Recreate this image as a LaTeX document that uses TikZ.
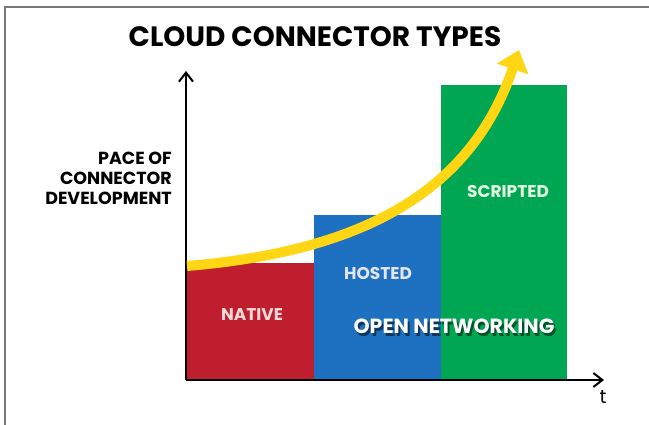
\documentclass[tikz,border=0pt]{standalone}
\usepackage{fontspec}
\setmainfont{Poppins}
\usetikzlibrary{arrows.meta}
\definecolor{cred}{RGB}{190,30,45}
\definecolor{cblue}{RGB}{30,112,192}
\definecolor{cgreen}{RGB}{0,166,81}
\definecolor{cyel}{RGB}{255,214,20}
\definecolor{frame}{RGB}{120,120,120}
\tikzset{
  axis/.style={line width=2.6pt, -{Straight Barb[length=9pt,width=14pt,line width=2pt]}},
  barlabel/.style={font=\bfseries\fontsize{17}{19}\selectfont, text=#1},
}
\begin{document}
\begin{tikzpicture}[x=1pt,y=-1pt]
\useasboundingbox (0,0) rectangle (649,425);
\fill[white] (0,0) rectangle (649,425);
\draw[frame, line width=1.5pt] (5,425) -- (5,7) -- (649,7);
% bars
\fill[cred] (187,263) rectangle (314,379);
\fill[cblue] (314,215) rectangle (441,379);
\fill[cgreen] (441,85) rectangle (567,379);
% axes
\coordinate (o) at (186,380);
\coordinate (ytop) at (186,71);
\coordinate (xend) at (604,380);
\draw[axis] (o) -- (ytop);
\draw[axis] (o) -- (xend);
% yellow arrow
\coordinate (ys) at (187,266);
\coordinate (ye) at (519,50);
\draw[cyel, line width=10pt, -{Triangle[length=20pt,width=32pt]}] (ys) .. controls (380,250) and (475,180) .. (ye);
% texts
\node[font=\bfseries\fontsize{28}{30}\selectfont] (title) at (315,37) {CLOUD CONNECTOR TYPES};
\node[font=\bfseries\fontsize{17.5}{20}\selectfont, align=right, anchor=east, inner sep=0pt] (ylab) at (172,178) {PACE OF\\CONNECTOR\\DEVELOPMENT};
\node[font=\fontsize{19}{20}\selectfont] (t) at (603,397) {t};
\node[barlabel={red!15!white}] (native) at (252,315) {NATIVE};
\node[barlabel={blue!10!white}] (hosted) at (378,274) {HOSTED};
\node[barlabel={green!10!white}] (scripted) at (508,192) {SCRIPTED};
\node[font=\bfseries\fontsize{20.5}{22}\selectfont, text=black, opacity=0.5] at (456,329) {OPEN NETWORKING};
\node[font=\bfseries\fontsize{20.5}{22}\selectfont, text=white] (open) at (454,326) {OPEN NETWORKING};
\end{tikzpicture}
\end{document}
